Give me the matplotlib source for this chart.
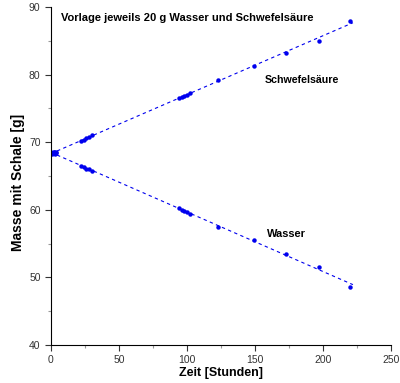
import matplotlib.pyplot as plt
import numpy as np

plt.rcParams['font.family'] = ['Liberation Sans', 'DejaVu Sans']

# Data
zeit = [0, 1, 2, 3, 4, 22, 24, 26, 28, 30, 94, 96, 98, 100, 102, 123, 149, 173, 197, 220]
schwefel = [68.5, 68.4, 68.6, 68.4, 68.5, 70.2, 70.4, 70.6, 70.8, 71.0,
            76.5, 76.7, 76.8, 77.0, 77.3, 79.2, 81.3, 83.2, 85.0, 88.0]
wasser = [68.4, 68.3, 68.5, 68.3, 68.4, 66.5, 66.3, 66.1, 66.0, 65.8,
          60.2, 60.0, 59.8, 59.7, 59.4, 57.5, 55.5, 53.5, 51.6, 48.6]

blue = '#0000ee'

fig = plt.figure(figsize=(4, 3.83), dpi=100)
ax = fig.add_axes([0.1275, 0.0992, 0.85, 0.8825])

t = np.array(zeit)
tt = np.array([0, 222])
for y in (schwefel, wasser):
    ax.plot(t, y, 'o', color=blue, markersize=3.2, markeredgewidth=0)
    k, d = np.polyfit(t, y, 1)
    ax.plot(tt, k * tt + d, color=blue, lw=0.8, ls=(0, (3, 3)))

ax.text(7, 88.4, 'Vorlage jeweils 20 g Wasser und Schwefelsäure',
        fontsize=8, fontweight='bold', va='center')
ax.text(157, 79.2, 'Schwefelsäure', fontsize=7.7, fontweight='bold', va='center')
ax.text(159, 56.4, 'Wasser', fontsize=7.9, fontweight='bold', va='center')

ax.set_xlim(0, 250)
ax.set_ylim(40, 90)
ax.set_xticks(range(0, 251, 50))
ax.set_xticks(range(0, 251, 25), minor=True)
ax.set_yticks(range(40, 91, 10))
ax.set_yticks(range(40, 91, 5), minor=True)
ax.tick_params(labelsize=7.5, direction='out', length=4, width=0.8, colors='#333333', labelcolor='#333333')
ax.tick_params(which='minor', direction='out', length=2, width=0.8, colors='#999999')
ax.spines['top'].set_visible(False)
ax.spines['right'].set_visible(False)
ax.set_xlabel('Zeit [Stunden]', fontsize=9, fontweight='bold', labelpad=1)
ax.set_ylabel('Masse mit Schale [g]', fontsize=10, fontweight='bold')
ax.yaxis.set_label_coords(-0.075, 0.48)

fig.savefig('out.png', dpi=100)
